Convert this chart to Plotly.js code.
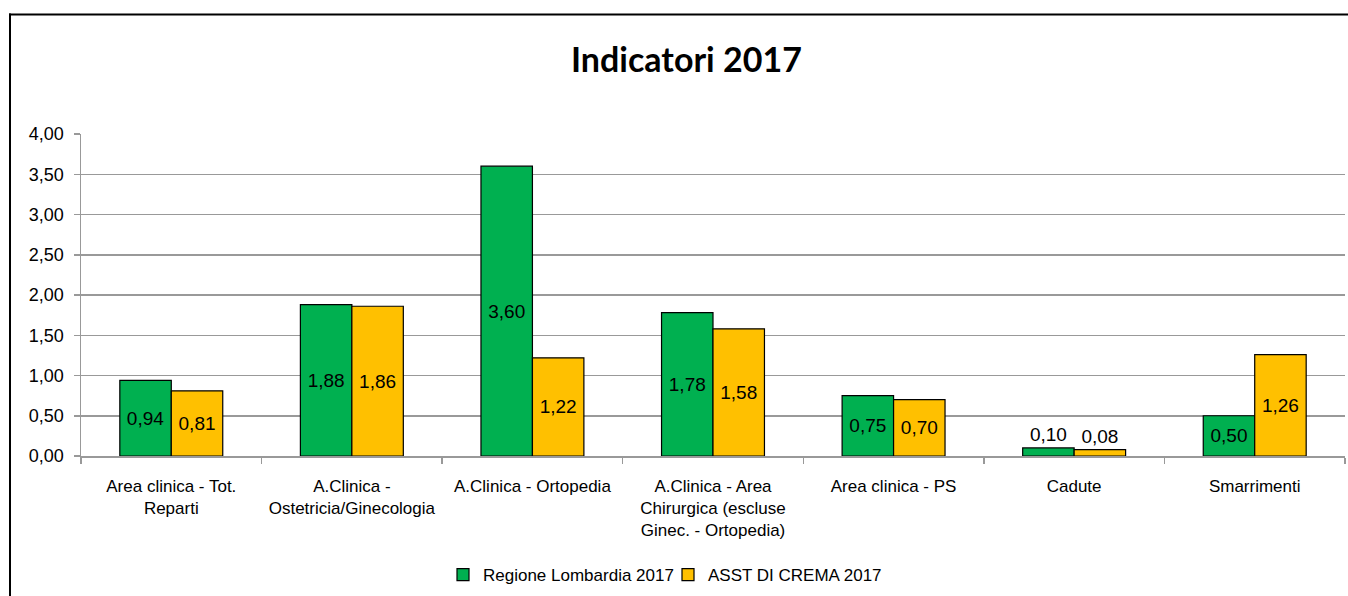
<!DOCTYPE html>
<html>
<head>
<meta charset="utf-8">
<script src="https://cdn.plot.ly/plotly-3.0.1.min.js"></script>
<style>
html,body{margin:0;padding:0;background:#fff;overflow:hidden;width:1348px;height:596px;}
#chart{position:absolute;left:0;top:0;width:1348px;height:596px;}
</style>
</head>
<body>
<div id="chart"></div>
<script>
const categories = [
  "Area clinica - Tot.<br>Reparti",
  "A.Clinica -<br>Ostetricia/Ginecologia",
  "A.Clinica - Ortopedia",
  "A.Clinica - Area<br>Chirurgica (escluse<br>Ginec. - Ortopedia)",
  "Area clinica - PS",
  "Cadute",
  "Smarrimenti"
];
const seriesNames = ["Regione Lombardia 2017", "ASST DI CREMA 2017"];
const regioneLombardia = [0.94, 1.88, 3.60, 1.78, 0.75, 0.10, 0.50];
const asstCrema = [0.81, 1.86, 1.22, 1.58, 0.70, 0.08, 1.26];
const yTicks = [0, 0.5, 1, 1.5, 2, 2.5, 3, 3.5, 4];

const W = 1348, H = 596;
const M = {l: 81, r: 3, t: 134, b: 136};
const pw = W - M.l - M.r, ph = H - M.t - M.b;
const px2x = p => (p - M.l) / pw;
const px2y = p => (H - M.b - p) / ph;

const common = {
  type: 'bar',
  x: categories,
  texttemplate: '%{y:.2f}',
  textposition: 'auto',
  insidetextanchor: 'middle',
  textangle: 0,
  constraintext: 'none',
  textfont: {family: 'Liberation Sans, Arial, sans-serif', size: 19, color: '#000'},
  insidetextfont: {color: '#000'},
  outsidetextfont: {color: '#000'},
  cliponaxis: false,
  hoverinfo: 'none'
};

const data = [
  Object.assign({}, common, {
    name: seriesNames[0], y: regioneLombardia, legend: 'legend',
    marker: {color: '#00B050', line: {color: '#000', width: 1.2}}
  }),
  Object.assign({}, common, {
    name: seriesNames[1], y: asstCrema, legend: 'legend2',
    marker: {color: '#FFC000', line: {color: '#000', width: 1.2}}
  })
];

const legendStyle = {
  orientation: 'h',
  xanchor: 'left',
  y: -0.37, yanchor: 'middle',
  font: {size: 17, color: '#000'},
  itemwidth: 30,
  bgcolor: 'rgba(0,0,0,0)'
};

const layout = {
  width: W, height: H,
  margin: M,
  paper_bgcolor: '#fff',
  plot_bgcolor: 'rgba(0,0,0,0)',
  separators: ',.',
  barmode: 'group',
  bargap: 0.43,
  bargroupgap: 0,
  font: {family: 'Liberation Sans, Arial, sans-serif', color: '#000'},
  title: {
    text: '<b>Indicatori 2017</b>',
    font: {family: 'Lato, Carlito, Calibri, sans-serif', size: 34, color: '#000'},
    x: 0.479, xref: 'paper', xanchor: 'center',
    y: 0.899, yref: 'container', yanchor: 'middle'
  },
  xaxis: {
    type: 'category',
    showline: true, linecolor: '#999', linewidth: 1.5,
    ticks: 'outside', tickson: 'boundaries', ticklen: 6, tickcolor: '#999', tickwidth: 1.5,
    ticklabelstandoff: 14,
    tickfont: {size: 17, color: '#000'},
    showgrid: false, zeroline: false, automargin: false
  },
  yaxis: {
    range: [0, 4],
    tickvals: yTicks,
    tickformat: '.2f',
    showline: true, linecolor: '#999', linewidth: 1.5,
    ticks: 'outside', ticklen: 6, tickcolor: '#999', tickwidth: 1.5,
    ticklabelstandoff: 6,
    showgrid: true, gridcolor: '#999', gridwidth: 1.5,
    zeroline: false,
    tickfont: {size: 18, color: '#000'},
    automargin: false
  },
  showlegend: true,
  legend: Object.assign({}, legendStyle, {x: px2x(443)}),
  legend2: Object.assign({}, legendStyle, {x: px2x(668)}),
  shapes: [
    {type: 'line', xref: 'paper', yref: 'paper', x0: px2x(10), x1: px2x(10), y0: px2y(12), y1: px2y(H + 10), line: {color: '#000', width: 2}},
    {type: 'line', xref: 'paper', yref: 'paper', x0: px2x(9), x1: px2x(W + 10), y0: px2y(13), y1: px2y(13), line: {color: '#000', width: 2}}
  ]
};

Plotly.newPlot('chart', data, layout, {displayModeBar: false, staticPlot: true});
</script>
</body>
</html>
